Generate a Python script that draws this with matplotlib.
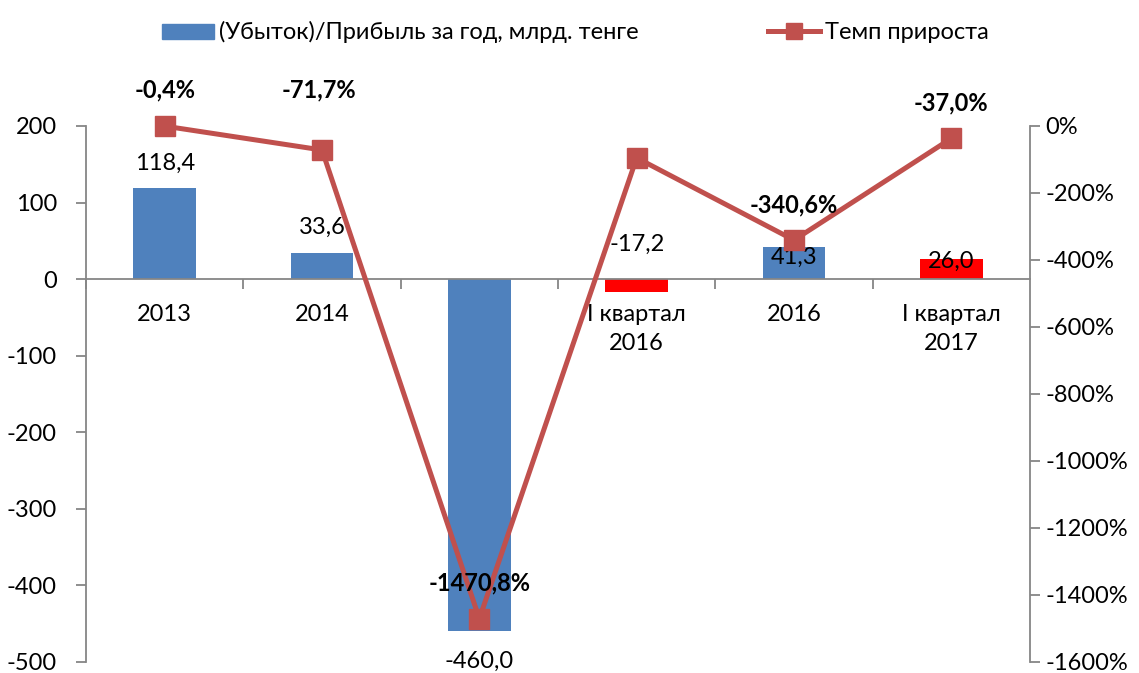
import matplotlib.pyplot as plt
from matplotlib.patches import Patch
from matplotlib.lines import Line2D

plt.rcParams['font.family'] = ['Lato', 'DejaVu Sans']
plt.rcParams['axes.unicode_minus'] = False

# Данные
categories = ['2013', '2014', '2015', 'I квартал\n2016', '2016', 'I квартал\n2017']
profit = [118.4, 33.6, -460.0, -17.2, 41.3, 26.0]
growth = [-0.4, -71.7, -1470.8, -95.2, -340.6, -37.0]
growth_labels = ['-0,4%', '-71,7%', '-1470,8%', '', '-340,6%', '-37,0%']
bar_colors = ['#4F81BD', '#4F81BD', '#4F81BD', '#FF0000', '#4F81BD', '#FF0000']

# смещения подписей (пиксели)
bar_label_dy = [25, 26, -30, 48, -10, -2]
line_label_dx = [0, -3, 0, 0, 0, 0]
line_label_dy = [36, 60, 36, 0, 35, 35]

gray = '#868686'
fs = 17

fig = plt.figure(figsize=(11.39, 6.73), dpi=100)
ax = fig.add_axes([0.0755, 0.0164, 0.8288, 0.7964])
x = list(range(len(categories)))

ax.bar(x, profit, width=0.4, color=bar_colors, zorder=2)
ax.set_xlim(-0.5, len(categories) - 0.5)
ax.set_ylim(-500, 200)
ax.set_yticks(range(-500, 201, 100))

for xi, v, dy in zip(x, profit, bar_label_dy):
    ax.annotate(f'{v:.1f}'.replace('.', ','), (xi, v), xytext=(0, dy),
                textcoords='offset pixels', ha='center', va='center', fontsize=fs, zorder=5)

ax.spines['top'].set_visible(False)
ax.spines['right'].set_visible(False)
ax.spines['bottom'].set_position(('data', 0))
for s in ['left', 'bottom']:
    ax.spines[s].set_color(gray)
    ax.spines[s].set_linewidth(1.3)
ax.set_xticks(x)
ax.set_xticklabels(categories, fontsize=fs, linespacing=1.45)
ax.set_xticks([i + 0.5 for i in x[:-1]] + [-0.5], minor=True)
ax.tick_params(axis='x', which='major', length=0, pad=18)
ax.tick_params(axis='x', which='minor', length=7, color=gray, width=1.3)
ax.tick_params(axis='y', length=7, color=gray, width=1.3, labelsize=fs, pad=14)

ax2 = ax.twinx()
ax2.plot(x, growth, color='#C0504D', linewidth=3.6, marker='s', markersize=15,
         zorder=3, clip_on=False, label='Темп прироста')
ax2.set_ylim(-1600, 0)
ax2.set_yticks(range(-1600, 1, 200))
ax2.set_yticklabels([f'{v}%' for v in range(-1600, 1, 200)])
for s in ['top', 'left', 'bottom']:
    ax2.spines[s].set_visible(False)
ax2.spines['right'].set_color(gray)
ax2.spines['right'].set_linewidth(1.3)
ax2.tick_params(axis='y', length=7, color=gray, width=1.3, labelsize=fs, pad=4)

for xi, v, lab, dx, dy in zip(x, growth, growth_labels, line_label_dx, line_label_dy):
    if lab:
        ax2.annotate(lab, (xi, v), xytext=(dx, dy), textcoords='offset pixels',
                     ha='center', va='center', fontsize=fs, fontweight='bold', zorder=6)

# Легенда
handles = [Patch(color='#4F81BD', label='(Убыток)/Прибыль за год, млрд. тенге'),
           Line2D([], [], color='#C0504D', linewidth=3.6, marker='s', markersize=12,
                  label='Темп прироста')]
fig.legend(handles=handles, loc='upper center', bbox_to_anchor=(0.505, 1.0), ncol=2,
           frameon=False, fontsize=fs, columnspacing=5.5, handlelength=2.2,
           handleheight=0.6, handletextpad=0.2)

plt.savefig('out.png', dpi=100)
